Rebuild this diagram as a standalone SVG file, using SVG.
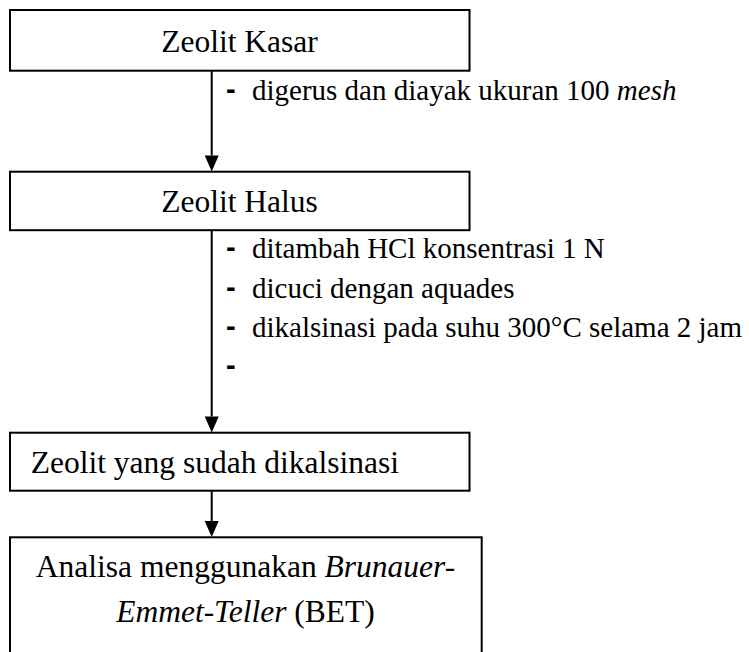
<svg xmlns="http://www.w3.org/2000/svg" width="749" height="652" viewBox="0 0 749 652">
  <style>
    .box { fill: #ffffff; stroke: #000000; stroke-width: 2; }
    .t { font-family: "Liberation Serif", "Times New Roman", serif; font-size: 31.5px; fill: #000000; }
    .lbl { font-family: "Liberation Serif", "Times New Roman", serif; font-size: 29px; fill: #000000; }
    .dash { font-family: "Liberation Sans", Arial, sans-serif; font-size: 29px; font-weight: bold; fill: #000000; }
    .conn { stroke: #000000; stroke-width: 2; fill: none; }
    .head { fill: #000000; }
  </style>
  <rect width="749" height="652" fill="#ffffff"/>

  <g id="connectors">
    <line class="conn" x1="211.7" y1="71" x2="211.7" y2="155.5"/>
    <path class="head" d="M204.7,155.5 L218.7,155.5 L211.7,171.5 Z"/>
    <line class="conn" x1="211.7" y1="230" x2="211.7" y2="416.5"/>
    <path class="head" d="M204.7,416.5 L218.7,416.5 L211.7,432.5 Z"/>
    <line class="conn" x1="211.7" y1="491" x2="211.7" y2="521"/>
    <path class="head" d="M204.7,521 L218.7,521 L211.7,537 Z"/>
  </g>

  <g id="labels">
    <text class="dash" x="226" y="99">-</text>
    <text class="lbl" x="252" y="100">digerus dan diayak ukuran 100 <tspan font-style="italic">mesh</tspan></text>
    <text class="dash" x="226" y="257">-</text>
    <text class="lbl" x="252" y="258">ditambah HCl konsentrasi 1 N</text>
    <text class="dash" x="226" y="296.5">-</text>
    <text class="lbl" x="252" y="297.5">dicuci dengan aquades</text>
    <text class="dash" x="226" y="336">-</text>
    <text class="lbl" x="252" y="337">dikalsinasi pada suhu 300°C selama 2 jam</text>
    <text class="dash" x="226" y="375">-</text>
  </g>

  <g id="node-zeolit-kasar">
    <rect class="box" x="10" y="10" width="459.5" height="60.7"/>
    <text class="t" x="239.5" y="52" text-anchor="middle">Zeolit Kasar</text>
  </g>

  <g id="node-zeolit-halus">
    <rect class="box" x="10" y="171.7" width="459.5" height="58.5"/>
    <text class="t" x="239.5" y="211.7" text-anchor="middle">Zeolit Halus</text>
  </g>

  <g id="node-zeolit-kalsinasi">
    <rect class="box" x="10" y="432.7" width="459.5" height="58"/>
    <text class="t" x="30.7" y="473">Zeolit yang sudah dikalsinasi</text>
  </g>

  <g id="node-analisa-bet">
    <rect class="box" x="10" y="537.3" width="471.7" height="130"/>
    <text class="t" x="245.5" y="577" text-anchor="middle">Analisa menggunakan <tspan font-style="italic">Brunauer-</tspan></text>
    <text class="t" x="245.5" y="622" text-anchor="middle"><tspan font-style="italic">Emmet-Teller</tspan> (BET)</text>
  </g>
</svg>
